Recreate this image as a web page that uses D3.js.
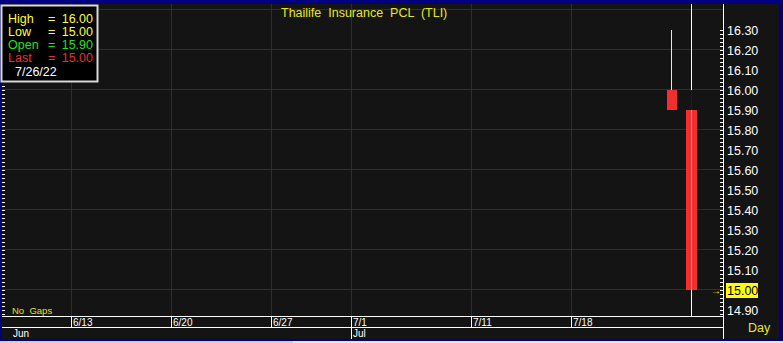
<!DOCTYPE html>
<html><head><meta charset="utf-8">
<script src="https://cdn.jsdelivr.net/npm/d3@7"></script>
<style>
html,body{margin:0;padding:0;background:#d4d0c8;}
svg{display:block;font-family:"Liberation Sans",Arial,sans-serif;}
</style></head>
<body>
<script>
// ---- data ----
const candleDates = ["2022-07-25", "2022-07-26"];
const openVals  = [16.00, 15.90];
const highVals  = [16.30, 16.00];
const lowVals   = [15.90, 15.00];
const closeVals = [15.90, 15.00];
const dayTickLabels = ["6/13", "6/20", "6/27", "7/1", "7/11", "7/18"];
const dayTickDates = ["2022-06-13", "2022-06-20", "2022-06-27", "2022-07-01", "2022-07-11", "2022-07-18"];
const monthLabels = ["Jun", "Jul"];
const monthDates = ["2022-06-08", "2022-07-01"];
const priceTicks = [14.90,15.00,15.10,15.20,15.30,15.40,15.50,15.60,15.70,15.80,15.90,16.00,16.10,16.20,16.30];
const gridPrices = [15.00,15.20,15.40,15.60,15.80,16.00,16.20,16.40];
const legendRows = [["High","16.00"],["Low","15.00"],["Open","15.90"],["Last","15.00"]];
const legendDate = "7/26/22";
const title = "Thailife  Insurance  PCL  (TLI)";
const lastPrice = 15.00;

const W = 783, H = 343;
const parse = d3.timeParse("%Y-%m-%d");
// trading days (weekdays)
const allDays = d3.timeDay.range(parse("2022-06-01"), parse("2022-08-01")).filter(d => d.getDay() !== 0 && d.getDay() !== 6);
const key = d3.timeFormat("%Y-%m-%d");
const idx = new Map(allDays.map((d, i) => [key(d), i]));
const x = d3.scaleLinear().domain([idx.get("2022-06-13"), idx.get("2022-07-18")]).range([72, 572]);
const xd = s => x(idx.get(s));
const y = d3.scaleLinear().domain([14.90, 16.30]).range([310, 30]);

const plotL = 2, plotR = 723, plotT = 4, plotB = 316;

const svg = d3.select("body").append("svg").attr("width", W).attr("height", H);
// frame
svg.append("rect").attr("width", W).attr("height", H).attr("fill", "#000080");
svg.append("rect").attr("x", 0).attr("y", 341).attr("width", W).attr("height", 2).attr("fill", "#d4d0c8");
svg.append("rect").attr("x", 293).attr("y", 341).attr("width", 490).attr("height", 2).attr("fill", "#e8e8e8");
svg.append("rect").attr("x", plotL).attr("y", plotT).attr("width", 779 - plotL).attr("height", 339 - plotT).attr("fill", "#141414");

const g = svg.append("g");
// grid
g.selectAll(".hg").data(gridPrices.filter(p => y(p) > plotT && y(p) < plotB)).join("line")
  .attr("x1", plotL).attr("x2", plotR).attr("y1", d => Math.round(y(d)) - 0.5).attr("y2", d => Math.round(y(d)) - 0.5)
  .attr("stroke", "#2e2e2e").attr("stroke-width", 1);
g.selectAll(".vg").data(dayTickDates).join("line")
  .attr("x1", d => Math.round(xd(d)) - 0.5).attr("x2", d => Math.round(xd(d)) - 0.5)
  .attr("y1", plotT).attr("y2", plotB)
  .attr("stroke", "#2e2e2e").attr("stroke-width", 1);

// crosshair
const lastX = Math.round(xd(candleDates[candleDates.length - 1])) - 0.5;
g.append("line").attr("x1", lastX).attr("x2", lastX).attr("y1", plotT).attr("y2", plotB)
  .attr("stroke", "#ffffff").attr("stroke-width", 1);

// candles
const candles = candleDates.map((d, i) => ({d, o: openVals[i], h: highVals[i], l: lowVals[i], c: closeVals[i], i}));
const cg = g.selectAll(".c").data(candles).join("g");
cg.append("line")
  .attr("x1", d => Math.round(xd(d.d)) - 0.5).attr("x2", d => Math.round(xd(d.d)) - 0.5)
  .attr("y1", d => y(d.h)).attr("y2", d => y(d.l))
  .attr("stroke", d => d.i === 0 ? "#ffff30" : "#101080").attr("stroke-width", 1);
cg.append("rect")
  .attr("x", d => Math.round(xd(d.d)) - 5 - d.i).attr("width", d => 10 + d.i)
  .attr("y", d => y(Math.max(d.o, d.c))).attr("height", d => Math.abs(y(d.o) - y(d.c)))
  .attr("fill", "#f03030");
// crosshair overlay on last body
const lc = candles[candles.length - 1];
g.append("line").attr("x1", lastX).attr("x2", lastX)
  .attr("y1", y(Math.max(lc.o, lc.c))).attr("y2", y(Math.min(lc.o, lc.c)))
  .attr("stroke", "#ffffff").attr("stroke-opacity", 0.45);

// bottom date axis
g.append("line").attr("x1", plotL).attr("x2", plotR).attr("y1", plotB + 0.5).attr("y2", plotB + 0.5).attr("stroke", "#fff");
g.append("line").attr("x1", plotL).attr("x2", plotR).attr("y1", 327.5).attr("y2", 327.5).attr("stroke", "#fff");
g.selectAll(".dt").data(dayTickDates).join("line")
  .attr("x1", d => Math.round(xd(d)) - 0.5).attr("x2", d => Math.round(xd(d)) - 0.5)
  .attr("y1", plotB).attr("y2", d => d === "2022-07-01" ? 339 : 327)
  .attr("stroke", "#fff");
g.selectAll(".dl").data(dayTickLabels).join("text")
  .attr("x", (d, i) => Math.round(xd(dayTickDates[i])) + 1).attr("y", 326)
  .attr("fill", "#ffffff").attr("font-size", 10).text(d => d);
g.selectAll(".ml").data(monthLabels).join("text")
  .attr("x", (d, i) => Math.round(xd(monthDates[i])) + 1).attr("y", 337)
  .attr("fill", "#ffffff").attr("font-size", 10).text(d => d);

// right axis
g.append("line").attr("x1", plotR + 0.5).attr("x2", plotR + 0.5).attr("y1", plotT).attr("y2", 339).attr("stroke", "#fff");
const minor = d3.range(0, 73).map(k => 14.86 + k * 0.02).filter(v => y(v) > plotT + 2 && y(v) < plotB - 1);
g.selectAll(".mt").data(minor).join("line")
  .attr("x1", plotR - 3).attr("x2", plotR).attr("y1", d => Math.round(y(d)) + 0.5).attr("y2", d => Math.round(y(d)) + 0.5)
  .attr("stroke", "#fff");
g.selectAll(".lt").data(minor.filter(v => y(v) > 84)).join("line")
  .attr("x1", plotL).attr("x2", plotL + 3).attr("y1", d => Math.round(y(d)) + 0.5).attr("y2", d => Math.round(y(d)) + 0.5)
  .attr("stroke", "#fff");
// last price highlight
g.append("rect").attr("x", 726).attr("y", y(lastPrice) - 7).attr("width", 32).attr("height", 15).attr("fill", "#ffff00");
g.append("text").attr("x", 711).attr("y", y(lastPrice) + 4).attr("fill", "#ffff00").attr("font-size", 10).text("→");
g.selectAll(".pl").data(priceTicks).join("text")
  .attr("x", 727).attr("y", d => y(d) + 4.5)
  .attr("fill", d => Math.abs(d - lastPrice) < 1e-9 ? "#000" : "#fff")
  .attr("font-size", 12.5).text(d => d.toFixed(2));
g.append("text").attr("x", 748).attr("y", 332).attr("fill", "#e8e830").attr("font-size", 12.5).text("Day");

// title
g.append("text").attr("x", 281).attr("y", 17).attr("fill", "#e8e820").attr("font-size", 12.5)
  .style("white-space", "pre").text(title);
// no gaps
g.append("text").attr("x", 12).attr("y", 314).attr("fill", "#e0e020").attr("font-size", 9.5)
  .style("white-space", "pre").text("No  Gaps");

// legend
g.append("rect").attr("x", 1.5).attr("y", 5.5).attr("width", 96).attr("height", 76)
  .attr("fill", "#000").attr("stroke", "#d8d8d8").attr("stroke-width", 2);
const lcol = ["#ffff30", "#ffff30", "#20e020", "#e83030"];
legendRows.forEach((r, i) => {
  const yy = 23 + i * 13;
  g.append("text").attr("x", 8).attr("y", yy).attr("fill", lcol[i]).attr("font-size", 12.5).text(r[0]);
  g.append("text").attr("x", 48).attr("y", yy).attr("fill", lcol[i]).attr("font-size", 12.5).text("=");
  g.append("text").attr("x", 93).attr("y", yy).attr("text-anchor", "end").attr("fill", lcol[i]).attr("font-size", 12.5).text(r[1]);
});
g.append("text").attr("x", 15).attr("y", 76).attr("fill", "#fff").attr("font-size", 12.5).text(legendDate);
</script>
</body></html>
